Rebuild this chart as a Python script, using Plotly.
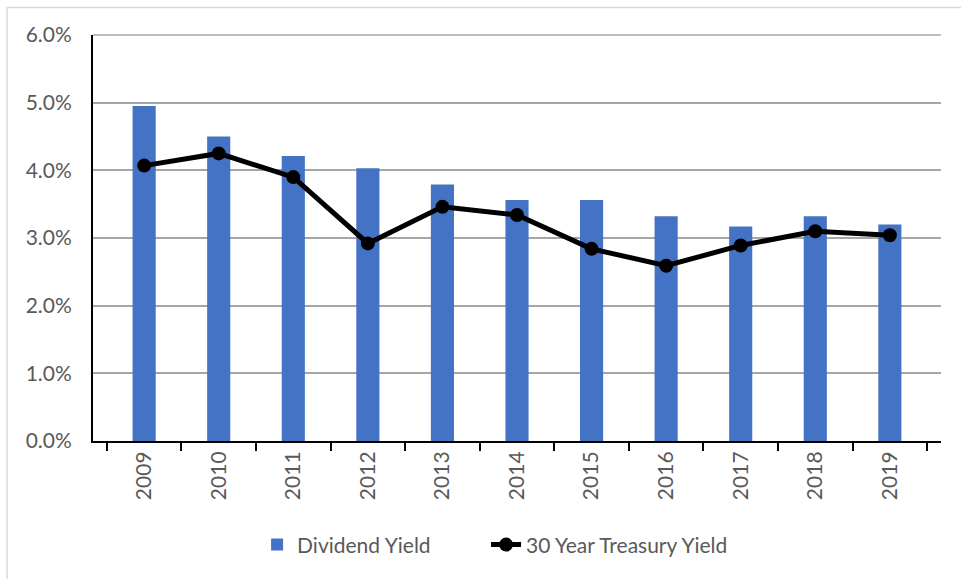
import plotly.graph_objects as go

years = ["2009", "2010", "2011", "2012", "2013", "2014", "2015", "2016", "2017", "2018", "2019"]
dividend_yield = [0.0495, 0.0450, 0.0421, 0.0403, 0.0379, 0.0356, 0.0356, 0.0332, 0.0317, 0.0332, 0.0320]
treasury_yield = [0.0407, 0.0425, 0.0390, 0.0292, 0.0346, 0.0334, 0.0284, 0.0259, 0.0289, 0.0310, 0.0304]
y_ticks = [0, 0.01, 0.02, 0.03, 0.04, 0.05, 0.06]

FONT = "Lato"
GRAY = "#595959"

fig = go.Figure()
fig.add_trace(go.Bar(
    x=years, y=dividend_yield, name="Dividend Yield",
    marker=dict(color="#4472C4", line=dict(width=0)), width=0.31,
    legend="legend",
))
fig.add_trace(go.Scatter(
    x=years, y=treasury_yield, name="30 Year Treasury Yield",
    mode="lines+markers",
    line=dict(color="black", width=5),
    marker=dict(color="black", size=14),
    legend="legend2",
))

legend_font = dict(family=FONT, size=21, color=GRAY)
fig.update_layout(
    width=961, height=579,
    margin=dict(l=93, r=20, t=35, b=138),
    paper_bgcolor="white", plot_bgcolor="white",
    font=dict(family=FONT, size=21, color=GRAY),
    showlegend=True,
    legend=dict(orientation="h", x=0.1935, xanchor="left", y=-0.256, yanchor="middle",
                font=legend_font),
    legend2=dict(orientation="h", x=0.4635, xanchor="left", y=-0.256, yanchor="middle",
                 font=legend_font),
    bargap=0.69,
)
fig.update_yaxes(
    range=[0, 0.06], tickvals=y_ticks, tickformat=".1%",
    showgrid=True, gridcolor="#a6a6a6", gridwidth=1.5,
    showline=True, linecolor="black", linewidth=2,
    ticks="", ticklabelstandoff=15,
    tickfont=dict(family=FONT, size=21, color=GRAY),
    zeroline=False, fixedrange=True,
)
fig.update_xaxes(
    type="category", tickangle=-90,
    showline=True, linecolor="black", linewidth=2,
    ticks="outside", tickson="boundaries", ticklen=8, tickwidth=2, tickcolor="black",
    tickfont=dict(family=FONT, size=21, color=GRAY),
    showgrid=False, fixedrange=True,
)
# top gridline at the upper edge of the plot area
fig.add_shape(type="line", xref="paper", yref="paper", x0=0, x1=1, y0=1, y1=1,
              line=dict(color="#a6a6a6", width=1.5), layer="below")
# light chart border
fig.add_shape(type="rect", xref="paper", yref="paper",
              x0=-0.1014, x1=1.2, y0=-0.5, y1=1.068,
              line=dict(color="#d9d9d9", width=1.5), fillcolor="rgba(0,0,0,0)", layer="below")

fig.write_html("out.html")
